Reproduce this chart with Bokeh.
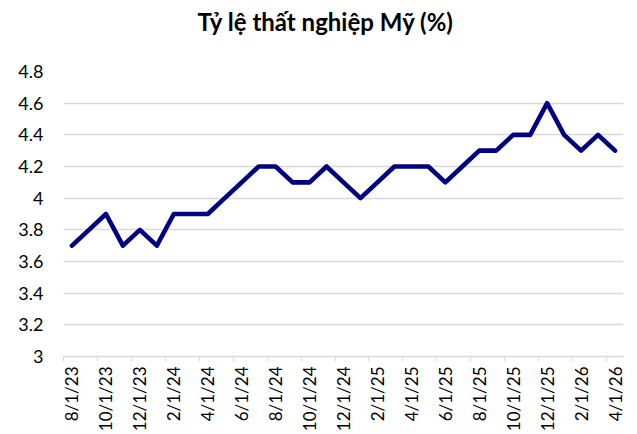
import math
from bokeh.plotting import figure
from bokeh.models import FixedTicker, ColumnDataSource, Range1d, Title
from bokeh.embed import file_html
from bokeh.resources import INLINE

# ---- data ----
dates = ["8/1/23", "9/1/23", "10/1/23", "11/1/23", "12/1/23",
         "1/1/24", "2/1/24", "3/1/24", "4/1/24", "5/1/24", "6/1/24",
         "7/1/24", "8/1/24", "9/1/24", "10/1/24", "11/1/24", "12/1/24",
         "1/1/25", "2/1/25", "3/1/25", "4/1/25", "5/1/25", "6/1/25",
         "7/1/25", "8/1/25", "9/1/25", "10/1/25", "11/1/25", "12/1/25",
         "1/1/26", "2/1/26", "3/1/26", "4/1/26"]
rate = [3.7, 3.8, 3.9, 3.7, 3.8,
        3.7, 3.9, 3.9, 3.9, 4.0, 4.1,
        4.2, 4.2, 4.1, 4.1, 4.2, 4.1,
        4.0, 4.1, 4.2, 4.2, 4.2, 4.1,
        4.2, 4.3, 4.3, 4.4, 4.4, 4.6,
        4.4, 4.3, 4.4, 4.3]
y_ticks = [3.0, 3.2, 3.4, 3.6, 3.8, 4.0, 4.2, 4.4, 4.6, 4.8]
y_tick_labels = ["3", "3.2", "3.4", "3.6", "3.8", "4", "4.2", "4.4", "4.6", "4.8"]
title_text = "Tỷ lệ thất nghiệp Mỹ (%)"

n = len(dates)
idx = list(range(n))
src = ColumnDataSource(data=dict(x=idx, y=rate, d=dates))

FONT = "Lato"

p = figure(width=637, height=434, output_backend="svg", toolbar_location=None,
           title=None,
           x_range=Range1d(-0.5, n - 0.5), y_range=Range1d(3.0, 4.8),
           min_border_left=63, min_border_right=14, min_border_top=71,
           min_border_bottom=78)
p.outline_line_color = None
p.background_fill_color = "white"
p.border_fill_color = "white"

# spacer between title and plot area, then the title itself
spacer = Title(text=" ", text_font=FONT, text_font_size="28px", standoff=0)
p.add_layout(spacer, "above")
main_title = Title(text=title_text, align="left", offset=134, text_font=FONT,
                   text_font_style="bold", text_font_size="24px",
                   text_color="#000000", standoff=0)
p.add_layout(main_title, "above")

p.line("x", "y", source=src, line_width=4.6, line_color="#000080",
       line_join="round", line_cap="round")

# x axis
major_x = list(range(0, n, 2))
minor_x = [i - 0.5 for i in range(0, n, 2)]
p.xaxis.ticker = FixedTicker(ticks=major_x, minor_ticks=minor_x)
p.xaxis.major_label_overrides = {i: dates[i] for i in major_x}
p.xaxis.major_label_orientation = math.pi / 2
p.xaxis.major_tick_line_color = None
p.xaxis.major_tick_out = 0
p.xaxis.major_tick_in = 0
p.xaxis.minor_tick_line_color = "#d9d9d9"
p.xaxis.minor_tick_out = 5
p.xaxis.minor_tick_in = 0
p.xaxis.axis_line_color = "#d9d9d9"
p.xaxis.axis_line_width = 1.5
p.xaxis.major_label_standoff = 5
p.xaxis.major_label_text_font = FONT
p.xaxis.major_label_text_font_size = "17px"
p.xaxis.major_label_text_color = "#000000"

# y axis
p.yaxis.ticker = FixedTicker(ticks=y_ticks)
p.yaxis.major_label_overrides = {t: l for t, l in zip(y_ticks, y_tick_labels)}
p.yaxis.axis_line_color = None
p.yaxis.major_tick_line_color = None
p.yaxis.minor_tick_line_color = None
p.yaxis.major_tick_out = 0
p.yaxis.major_label_standoff = 20
p.yaxis.major_label_text_font = FONT
p.yaxis.major_label_text_font_size = "18px"
p.yaxis.major_label_text_color = "#000000"

p.xgrid.visible = False
p.ygrid.ticker = FixedTicker(ticks=y_ticks)
p.ygrid.grid_line_color = "#d9d9d9"
p.ygrid.grid_line_width = 1.5

open("out.html", "w").write(file_html(p, INLINE))
